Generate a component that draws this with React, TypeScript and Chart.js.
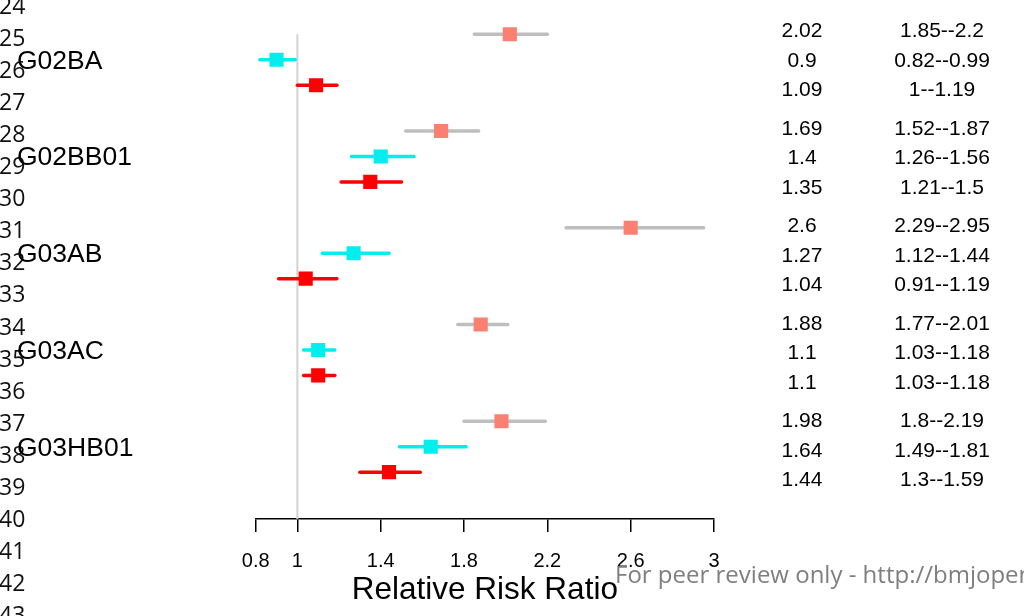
import React, { useEffect, useRef } from "react";
import { Chart, registerables } from "chart.js";

Chart.register(...registerables);

// ---- data ----
const groups = ["G02BA", "G02BB01", "G03AB", "G03AC", "G03HB01"];

const estA = [2.02, 1.69, 2.6, 1.88, 1.98];
const lowA = [1.85, 1.52, 2.29, 1.77, 1.8];
const highA = [2.2, 1.87, 2.95, 2.01, 2.19];

const estB = [0.9, 1.4, 1.27, 1.1, 1.64];
const lowB = [0.82, 1.26, 1.12, 1.03, 1.49];
const highB = [0.99, 1.56, 1.44, 1.18, 1.81];

const estC = [1.09, 1.35, 1.04, 1.1, 1.44];
const lowC = [1, 1.21, 0.91, 1.03, 1.3];
const highC = [1.19, 1.5, 1.19, 1.18, 1.59];

const xTicks = [0.8, 1, 1.4, 1.8, 2.2, 2.6, 3];
const lineNumbers = [24, 25, 26, 27, 28, 29, 30, 31, 32, 33, 34, 35, 36, 37, 38, 39, 40, 41, 42, 43];
const axisTitle = "Relative Risk Ratio";
const watermark = "For peer review only - http://bmjopen.bmj.com/site/about/guidelines.xhtml";

// ---- layout constants ----
const GROUP_STEP = 3.8;
const TEXT_OFFSET = 1.16;
const Y_MIN = -0.4;
const Y_MAX = 19.04;
const SANS = '"Liberation Sans", Arial, Helvetica, sans-serif';
const OPEN = '"Open Sans", "Noto Sans", sans-serif';

const rowY = (g: number, j: number) => g * GROUP_STEP + j;

export default function App() {
  const ref = useRef<HTMLCanvasElement>(null);

  useEffect(() => {
    const canvas = ref.current!;
    const series = [
      { est: estA, lo: lowA, hi: highA, point: "#FA8072", line: "#BEBEBE" },
      { est: estB, lo: lowB, hi: highB, point: "#00EEEE", line: "#00EEEE" },
      { est: estC, lo: lowC, hi: highC, point: "#FF0000", line: "#FF0000" },
    ];

    const datasets: any[] = [];
    series.forEach((s, j) => {
      datasets.push({
        type: "scatter",
        data: s.est.map((v, g) => ({ x: v, y: rowY(g, j) })),
        backgroundColor: s.point,
        borderColor: s.point,
        borderWidth: 0,
        pointStyle: "rect",
        pointRadius: 10,
        pointHoverRadius: 10,
        order: 0,
      });
    });
    series.forEach((s, j) => {
      s.est.forEach((_, g) => {
        datasets.push({
          type: "line",
          data: [
            { x: s.lo[g], y: rowY(g, j) },
            { x: s.hi[g], y: rowY(g, j) },
          ],
          borderColor: s.line,
          borderWidth: 3.5,
          borderCapStyle: "round",
          pointRadius: 0,
          order: 1,
        });
      });
    });
    datasets.push({
      type: "line",
      data: [
        { x: 1, y: 0 },
        { x: 1, y: Y_MAX },
      ],
      borderColor: "#D3D3D3",
      borderWidth: 2,
      pointRadius: 0,
      order: 2,
    });

    const textPlugin = {
      id: "textPlugin",
      afterDraw(chart: any) {
        const ctx = chart.ctx as CanvasRenderingContext2D;
        const ys = chart.scales.y;
        ctx.save();
        // line numbers
        ctx.fillStyle = "#111";
        ctx.font = `23px ${OPEN}`;
        ctx.textAlign = "left";
        ctx.textBaseline = "middle";
        lineNumbers.forEach((n, i) => {
          ctx.fillText(String(n), -1, 7 + i * 32.1);
        });
        // group labels
        ctx.fillStyle = "#000";
        ctx.font = `26.5px ${SANS}`;
        groups.forEach((gName, g) => {
          ctx.fillText(gName, 17, ys.getPixelForValue(rowY(g, 1)) + 1.5);
        });
        // right text columns
        ctx.font = `21px ${SANS}`;
        ctx.textAlign = "center";
        series.forEach((s, j) => {
          s.est.forEach((v, g) => {
            const y = ys.getPixelForValue(g * GROUP_STEP * 1.008 + 1 + (j - 1) * TEXT_OFFSET) + 1;
            ctx.fillText(String(v), 802, y);
            ctx.fillText(`${s.lo[g]}--${s.hi[g]}`, 942, y);
          });
        });
        // watermark
        ctx.fillStyle = "#7F7F7F";
        ctx.font = `24px ${OPEN}`;
        ctx.textAlign = "left";
        ctx.textBaseline = "alphabetic";
        ctx.fillText(watermark, 615, 583);
        ctx.restore();
      },
    };

    const chart = new Chart(canvas, {
      type: "scatter",
      data: { datasets },
      options: {
        animation: false,
        responsive: false,
        devicePixelRatio: 1,
        layout: { padding: { left: 255.7, right: 310, top: 24.1, bottom: 0 } },
        plugins: { legend: { display: false }, tooltip: { enabled: false } },
        events: [],
        scales: {
          x: {
            type: "linear",
            min: 0.8,
            max: 3,
            afterBuildTicks: (s: any) => {
              s.ticks = xTicks.map((v) => ({ value: v }));
            },
            afterFit: (s: any) => {
              s.height = 97;
            },
            ticks: {
              callback: (v: any) => String(v),
              font: { family: SANS, size: 20 },
              color: "#000",
              padding: 17,
              maxRotation: 0,
              autoSkip: false,
            },
            grid: {
              drawOnChartArea: false,
              drawTicks: true,
              tickLength: 13,
              color: "#000",
              lineWidth: 1.5,
            },
            border: { display: true, color: "#000", width: 1.5 },
            title: {
              display: true,
              text: axisTitle,
              font: { family: SANS, size: 31.5 },
              color: "#000",
              padding: { top: 0, bottom: 7 },
            },
          },
          y: {
            type: "linear",
            min: Y_MIN,
            max: Y_MAX,
            reverse: true,
            display: false,
          },
        },
      },
      plugins: [textPlugin],
    } as any);

    return () => chart.destroy();
  }, []);

  return (
    <div style={{ position: "absolute", left: 0, top: 0, width: 1024, height: 616, background: "#fff" }}>
      <canvas ref={ref} width={1024} height={616} style={{ display: "block" }} />
    </div>
  );
}
